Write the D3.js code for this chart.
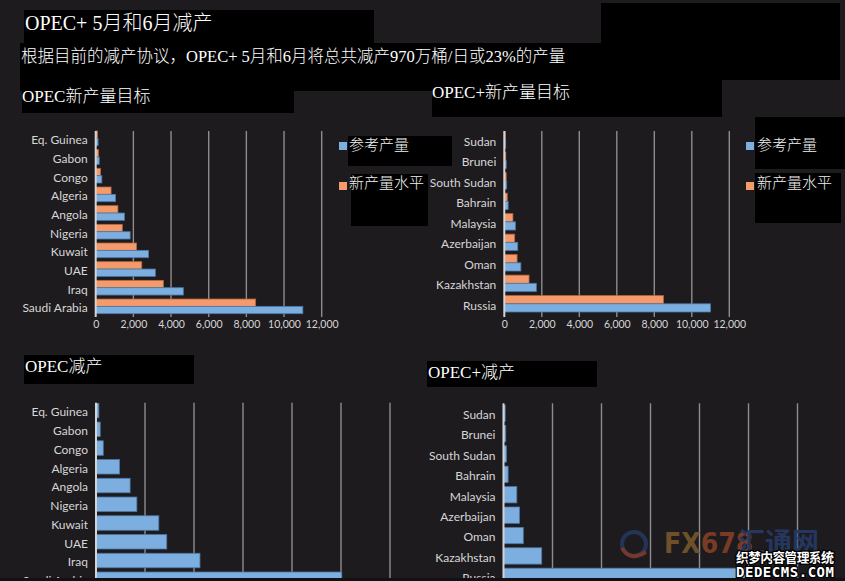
<!DOCTYPE html>
<html>
<head>
<meta charset="utf-8">
<script src="https://cdn.jsdelivr.net/npm/d3@7"></script>
<style>
  html, body { margin: 0; padding: 0; background: #1d1b1e; }
  svg { display: block; }
  .title { font-family: "Liberation Serif", "Noto Sans CJK SC", serif; fill: #fff; font-weight: 300; }
  .legend { font-family: "Noto Sans CJK SC", sans-serif; fill: #f2f2f2; font-size: 15px; font-weight: 300; }
  .cat text { font-family: Lato, "Noto Sans", sans-serif; font-size: 12px; fill: #d6d6d6; }
  .ticks text { font-family: Lato, "Noto Sans", sans-serif; font-size: 10.5px; fill: #d6d6d6; }
</style>
</head>
<body>
<svg id="chart" width="845" height="581"></svg>
<script>
// OPEC members, top to bottom (thousand barrels/day)
const opecCountries = ['Eq. Guinea', 'Gabon', 'Congo', 'Algeria', 'Angola', 'Nigeria', 'Kuwait', 'UAE', 'Iraq', 'Saudi Arabia']
const opecRef = [127, 187, 325, 1057, 1528, 1829, 2809, 3168, 4653, 11000]
const opecNew = [98, 144, 251, 816, 1180, 1412, 2168, 2446, 3592, 8492]
const opecCut = [29, 43, 74, 241, 348, 417, 641, 722, 1061, 2508]

// non-OPEC partners
const plusCountries = ['Sudan', 'Brunei', 'South Sudan', 'Bahrain', 'Malaysia', 'Azerbaijan', 'Oman', 'Kazakhstan', 'Russia']
const plusRef = [75, 102, 130, 205, 595, 718, 883, 1709, 11000]
const plusNew = [58, 79, 100, 158, 459, 554, 681, 1319, 8492]
const plusCut = [17, 23, 30, 47, 136, 164, 202, 390, 2508]

const targetTicks = [0, 2000, 4000, 6000, 8000, 10000, 12000]
const cutTicks = [0, 500, 1000, 1500, 2000, 2500, 3000]
const seriesNames = ['参考产量', '新产量水平']

const BLUE = '#7cafdf'
const BLUE_EDGE = '#4d76a3'
const ORANGE = '#f59a6b'
const ORANGE_EDGE = '#b5673f'

const svg = d3.select('#chart')
svg.append('rect').attr('width', 845).attr('height', 581).attr('fill', '#1d1b1e')

/** draw one horizontal bar panel
  * series: list of [values, fill, edge], drawn top to bottom inside each band
  */
function panel (o) {
  const g = svg.append('g')
  const x = d3.scaleLinear().domain([0, o.max]).range([o.x0, o.x1])
  const y = d3.scaleBand().domain(o.cats).range([o.y0, o.y1]).paddingInner(o.pad).paddingOuter(0)
  const sub = d3.scaleBand().domain(d3.range(o.series.length)).range([0, y.bandwidth()])

  // gridlines
  g.selectAll('line.grid')
    .data(o.ticks.slice(1)).enter().append('line')
    .attr('x1', d => x(d)).attr('x2', d => x(d))
    .attr('y1', o.gy0).attr('y2', o.gy1)
    .attr('stroke', '#8e8c90').attr('stroke-width', 1.4)

  o.series.forEach(([vals, fill, edge], k) => {
    g.selectAll('rect.s' + k)
      .data(o.cats).enter().append('rect')
      .attr('x', x(0))
      .attr('y', (c) => y(c) + sub(k))
      .attr('width', (c, i) => Math.max(1, x(vals[i]) - x(0)))
      .attr('height', sub.bandwidth())
      .attr('fill', fill)
      .attr('stroke', edge).attr('stroke-width', 0.8)
  })

  // zero line
  g.append('line')
    .attr('x1', x(0)).attr('x2', x(0)).attr('y1', o.gy0).attr('y2', o.gy1)
    .attr('stroke', '#d4d4d4').attr('stroke-width', 2)

  const cat = g.append('g').attr('class', 'cat')
    .attr('transform', `translate(${x(0)},2)`)
    .call(d3.axisLeft(y).tickSize(0).tickPadding(8))
  cat.select('.domain').remove()

  if (o.showTicks) {
    const ax = g.append('g').attr('class', 'ticks')
      .attr('transform', `translate(0,${o.gy1})`)
      .call(d3.axisBottom(x).tickValues(o.ticks).tickSize(0).tickPadding(4).tickFormat(d3.format(',')))
    ax.select('.domain').remove()
  }
}

panel({ cats: opecCountries, series: [[opecNew, ORANGE, ORANGE_EDGE], [opecRef, BLUE, BLUE_EDGE]],
  max: 12000, ticks: targetTicks, x0: 95.7, x1: 321.7, y0: 131, y1: 313.7, pad: 0.214, gy0: 131, gy1: 317, showTicks: true })
panel({ cats: plusCountries, series: [[plusNew, ORANGE, ORANGE_EDGE], [plusRef, BLUE, BLUE_EDGE]],
  max: 12000, ticks: targetTicks, x0: 504.3, x1: 729.3, y0: 131.7, y1: 312, pad: 0.2, gy0: 131, gy1: 317, showTicks: true })
panel({ cats: opecCountries, series: [[opecCut, BLUE, BLUE_EDGE]],
  max: 3000, ticks: cutTicks, x0: 96, x1: 390, y0: 403.3, y1: 586.5, pad: 0.227, gy0: 402.7, gy1: 581, showTicks: false })
panel({ cats: plusCountries, series: [[plusCut, BLUE, BLUE_EDGE]],
  max: 3000, ticks: cutTicks, x0: 503.5, x1: 797.5, y0: 405, y1: 584.5, pad: 0.2, gy0: 403.3, gy1: 581, showTicks: false })

// black label boxes
const boxes = [
  [24, 10, 350, 33], [20, 43, 581, 48], [22, 80, 272, 33], [432, 77, 290, 40],
  [601, 3, 239, 77], [348, 136, 104, 30], [351, 174, 77, 52],
  [755, 117, 90, 52], [755, 173, 86, 50], [24, 355, 170, 29], [427, 361, 170, 26]
]
svg.selectAll('rect.box').data(boxes).enter().append('rect')
  .attr('x', d => d[0]).attr('y', d => d[1]).attr('width', d => d[2]).attr('height', d => d[3])
  .attr('fill', '#000')

const titles = [
  ['OPEC+ 5月和6月减产', 25, 30, 20],
  ['根据目前的减产协议，OPEC+ 5月和6月将总共减产970万桶/日或23%的产量', 21, 62, 16.5],
  ['OPEC新产量目标', 22, 102, 17],
  ['OPEC+新产量目标', 432, 98, 17],
  ['OPEC减产', 25, 372, 17],
  ['OPEC+减产', 428, 378, 17]
]
svg.selectAll('text.title').data(titles).enter().append('text')
  .attr('class', 'title')
  .attr('x', d => d[1]).attr('y', d => d[2]).style('font-size', d => d[3] + 'px')
  .text(d => d[0])

// legends
;[[339, 349], [746, 757]].forEach(([sx, tx]) => {
  seriesNames.forEach((name, i) => {
    svg.append('rect').attr('x', sx).attr('y', 142 + i * 40).attr('width', 8).attr('height', 8)
      .attr('fill', i === 0 ? BLUE : ORANGE)
    svg.append('text').attr('class', 'legend').attr('x', tx).attr('y', 150 + i * 38).text(name)
  })
})

// watermark
const wm = svg.append('g')
wm.append('circle').attr('cx', 634).attr('cy', 544).attr('r', 12)
  .attr('fill', 'none').attr('stroke', '#27406e').attr('stroke-width', 4).attr('opacity', 0.7)
wm.append('path').attr('d', 'M622,548 Q630,562 646,552').attr('fill', 'none')
  .attr('stroke', '#8a3b22').attr('stroke-width', 4).attr('opacity', 0.8)
wm.append('text').attr('x', 664).attr('y', 553)
  .style('font-family', '"DejaVu Sans Condensed", sans-serif').style('font-weight', 'bold').style('font-size', '28px')
  .html('<tspan fill="#6e5128">FX</tspan><tspan fill="#7a3b24">678</tspan>')
wm.append('text').attr('x', 738).attr('y', 552).attr('fill', '#25365f')
  .style('font-family', '"Noto Sans CJK SC"').style('font-weight', 'bold').style('font-size', '27px')
  .text('汇通网')
wm.append('text').attr('x', 736).attr('y', 562).attr('fill', '#fff')
  .attr('stroke', '#000').attr('stroke-width', 2.5).attr('paint-order', 'stroke')
  .style('font-family', '"Noto Sans CJK SC"').style('font-weight', 'bold').style('font-size', '13px')
  .attr('textLength', 98).text('织梦内容管理系统')
wm.append('text').attr('x', 736).attr('y', 577).attr('fill', '#fff')
  .attr('stroke', '#000').attr('stroke-width', 2.5).attr('paint-order', 'stroke')
  .style('font-family', '"DejaVu Sans Mono"').style('font-weight', 'bold').style('font-size', '14px')
  .attr('textLength', 98).text('DEDECMS.COM')

// dark strip at bottom edge
svg.append('rect').attr('x', 0).attr('y', 578).attr('width', 845).attr('height', 3).attr('fill', '#121113')
</script>
</body>
</html>
